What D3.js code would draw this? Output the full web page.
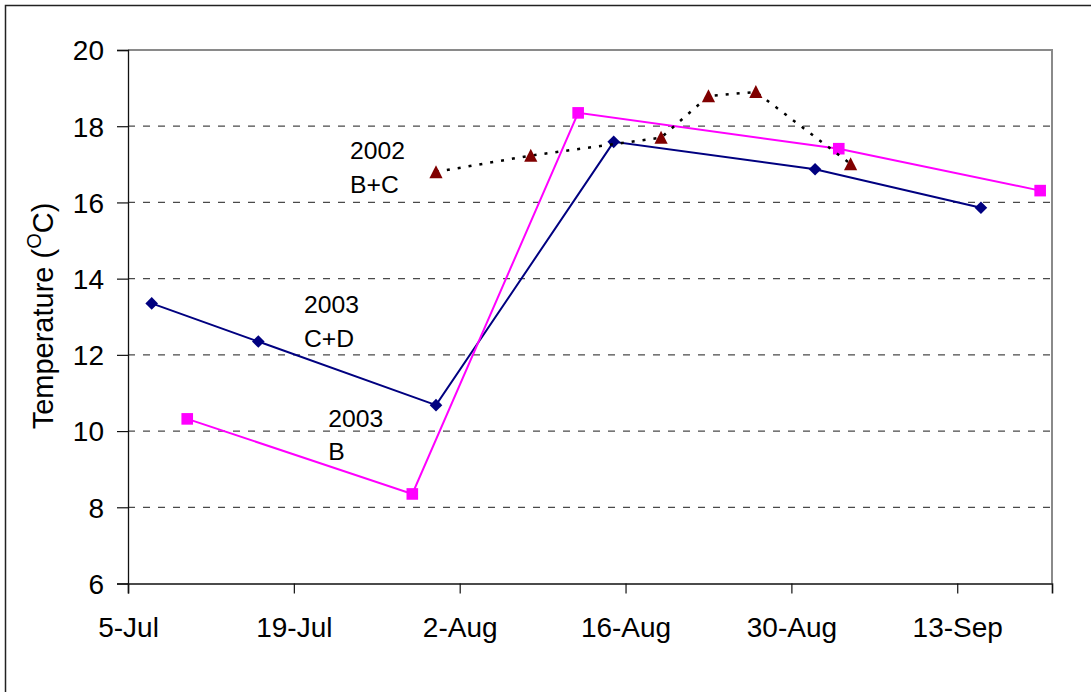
<!DOCTYPE html>
<html>
<head>
<meta charset="utf-8">
<script src="https://cdn.jsdelivr.net/npm/d3@7"></script>
<style>
  html, body { margin: 0; padding: 0; background: #fff; }
  svg { display: block; font-family: "Liberation Sans", Arial, sans-serif; }
</style>
</head>
<body>
<svg id="chart" width="1091" height="692"></svg>
<script>
// Water temperature by sampling date
const datesCD2003 = ["2003-07-07", "2003-07-16", "2003-07-31", "2003-08-15", "2003-09-01", "2003-09-15"];
const tempsCD2003 = [13.35, 12.35, 10.68, 17.59, 16.87, 15.86];

const datesB2003 = ["2003-07-10", "2003-07-29", "2003-08-12", "2003-09-03", "2003-09-20"];
const tempsB2003 = [10.32, 8.35, 18.35, 17.41, 16.31];

// 2002 samples shown on the same day-of-year axis
const datesBC2002 = ["2003-07-31", "2003-08-08", "2003-08-19", "2003-08-23", "2003-08-27", "2003-09-04"];
const tempsBC2002 = [16.80, 17.23, 17.70, 18.79, 18.90, 17.01];

const xTickDates = ["2003-07-05", "2003-07-19", "2003-08-02", "2003-08-16", "2003-08-30", "2003-09-13"];
const yTicks = [6, 8, 10, 12, 14, 16, 18, 20];
const yGrid = [8, 10, 12, 14, 16, 18];
const xDomain = ["2003-07-05", "2003-09-21"];
const yDomain = [6, 20];

const parse = d3.utcParse("%Y-%m-%d");
const fmt = d3.utcFormat("%-d-%b");

const svg = d3.select("#chart");
const plot = { left: 128, right: 1052, top: 50, bottom: 583.5 };

const x = d3.scaleUtc().domain(xDomain.map(parse)).range([plot.left, plot.right]);
const y = d3.scaleLinear().domain(yDomain).range([plot.bottom, plot.top]);

// Outer chart frame
svg.append("rect")
  .attr("x", 5.5).attr("y", 5.5)
  .attr("width", 1100).attr("height", 700)
  .attr("fill", "none").attr("stroke", "#222").attr("stroke-width", 1.5);

// Dashed horizontal gridlines
svg.append("g").selectAll("line").data(yGrid).join("line")
  .attr("x1", plot.left).attr("x2", plot.right)
  .attr("y1", d => y(d)).attr("y2", d => y(d))
  .attr("stroke", "#4a4a4a").attr("stroke-width", 1.3)
  .attr("stroke-dasharray", "7,8");

// Plot area top and right border
svg.append("path")
  .attr("d", `M${plot.left},${plot.top}H${plot.right}V${plot.bottom}`)
  .attr("fill", "none").attr("stroke", "#8a8a8a").attr("stroke-width", 2);

// Axes
const yAxis = d3.axisLeft(y).tickValues(yTicks).tickSize(11).tickPadding(13).tickFormat(d3.format("d"));
const gy = svg.append("g").attr("transform", `translate(${plot.left},0)`).call(yAxis);
gy.select(".domain").attr("stroke", "#111").attr("stroke-width", 1.3);
gy.selectAll(".tick line").attr("stroke", "#111").attr("stroke-width", 1.2);
gy.selectAll(".tick text").attr("font-size", 28).attr("fill", "#000")
  .attr("font-family", "'Liberation Sans', Arial, sans-serif").attr("dy", "0.35em");

const xAxis = d3.axisBottom(x).tickValues(xTickDates.map(parse)).tickSize(10).tickPadding(24).tickFormat(fmt);
const gx = svg.append("g").attr("transform", `translate(0,${plot.bottom})`).call(xAxis);
gx.select(".domain").attr("stroke", "#111").attr("stroke-width", 1.6);
gx.selectAll(".tick line").attr("stroke", "#111").attr("stroke-width", 1.2);
gx.selectAll(".tick text").attr("font-size", 28).attr("fill", "#000")
  .attr("font-family", "'Liberation Sans', Arial, sans-serif").attr("dy", "0.71em");

// Y axis title
const yTitle = svg.append("text")
  .attr("transform", "translate(53,316) rotate(-90)")
  .attr("text-anchor", "middle")
  .attr("font-size", 29).attr("fill", "#000");
yTitle.append("tspan").text("Temperature (");
yTitle.append("tspan").attr("font-size", 20).attr("dy", -12).text("O");
yTitle.append("tspan").attr("dy", 12).text("C)");

const line = d3.line().x(d => x(d.date)).y(d => y(d.temp));
const zip = (ds, vs) => ds.map((d, i) => ({ date: parse(d), temp: vs[i] }));

const cd2003 = zip(datesCD2003, tempsCD2003);
const b2003 = zip(datesB2003, tempsB2003);
const bc2002 = zip(datesBC2002, tempsBC2002);

// 2003 C+D: navy line with diamonds
svg.append("path").datum(cd2003).attr("d", line)
  .attr("fill", "none").attr("stroke", "#000080").attr("stroke-width", 2);
svg.append("g").selectAll("path").data(cd2003).join("path")
  .attr("transform", d => `translate(${x(d.date)},${y(d.temp)})`)
  .attr("d", "M0,-6.3L6.3,0L0,6.3L-6.3,0Z")
  .attr("fill", "#000080");

// 2003 B: magenta line with squares
svg.append("path").datum(b2003).attr("d", line)
  .attr("fill", "none").attr("stroke", "#FF00FF").attr("stroke-width", 2);
svg.append("g").selectAll("rect").data(b2003).join("rect")
  .attr("x", d => x(d.date) - 5.8).attr("y", d => y(d.temp) - 5.8)
  .attr("width", 11.6).attr("height", 11.6)
  .attr("fill", "#FF00FF");

// 2002 B+C: dotted black line with dark red triangles
svg.append("path").datum(bc2002).attr("d", line)
  .attr("fill", "none").attr("stroke", "#000").attr("stroke-width", 2.5)
  .attr("stroke-dasharray", "3,8");
svg.append("g").selectAll("path").data(bc2002).join("path")
  .attr("transform", d => `translate(${x(d.date)},${y(d.temp)})`)
  .attr("d", "M0,-6.8L6.6,6.2L-6.6,6.2Z")
  .attr("fill", "#800000");

// Series annotations
const notes = [
  { lines: ["2002", "B+C"], x: 350, y: 159.3 },
  { lines: ["2003", "C+D"], x: 304, y: 313.3 },
  { lines: ["2003", "B"], x: 328.3, y: 426.7 }
];
notes.forEach(n => {
  const t = svg.append("text").attr("font-size", 24.7).attr("fill", "#000");
  n.lines.forEach((s, i) => {
    t.append("tspan").attr("x", n.x).attr("y", n.y + i * 33.7).text(s);
  });
});
</script>
</body>
</html>
